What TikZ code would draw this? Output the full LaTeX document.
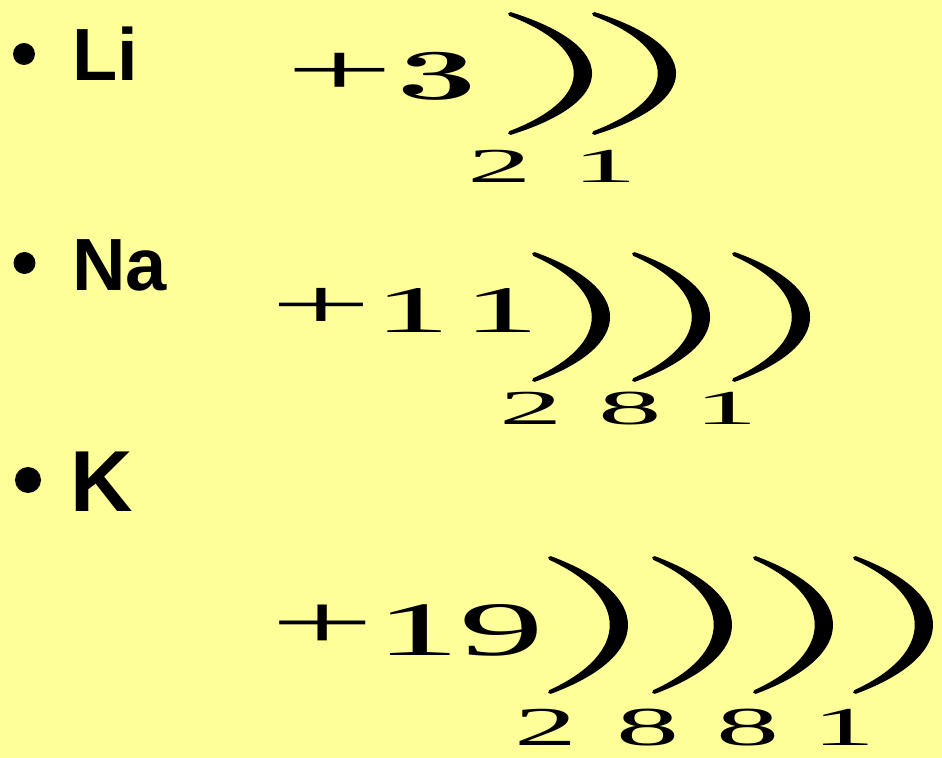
\documentclass[tikz,border=0pt]{standalone}
\usepackage{fontspec}
\setsansfont{Liberation Sans}
\newfontfamily\numfont{Liberation Serif}
\usepackage{graphicx}
\usepackage{tikz}
\definecolor{slideyellow}{RGB}{255,255,153}

% 横向拉宽的文字
\newcommand{\wide}[2]{\scalebox{#1}[1]{\numfont #2}}
% 拉宽并抬高的加号：字号，拉宽倍数，抬高量
\newcommand{\plussign}[3]{\raisebox{#3}{\scalebox{#2}[1]{\numfont\fontsize{#1}{#1}\selectfont +}}}
% 电子层弧线：起点 x，上端 y，下端 y，控制点水平偏移
\newcommand{\shellarc}[4]{%
  \fill[shell] (#1,#2)
    .. controls ({#1+#4},{#2+0.28*(#3-#2)}) and ({#1+#4},{#3-0.28*(#3-#2)}) .. (#1,#3)
    .. controls ({#1+#4-19},{#3-0.28*(#3-#2)}) and ({#1+#4-19},{#2+0.28*(#3-#2)}) .. cycle;}

\tikzset{
  elem label/.style={
    font=\sffamily\bfseries\fontsize{37}{40}\selectfont,
    anchor=base west,
    inner sep=0pt
  },
  bullet dot/.style={
    circle,
    fill=black,
    inner sep=0pt,
    minimum size=11pt
  },
  nucleus/.style={
    anchor=base west,
    inner sep=0pt
  },
  shell num/.style={
    anchor=base,
    inner sep=0pt
  },
  shell/.style={
    fill=black,
    draw=black,
    line width=2pt,
    line join=round
  }
}

\begin{document}
\begin{tikzpicture}[x=0.5pt, y=-0.5pt]
    % 0. 背景
    \fill[slideyellow] (0,0) rectangle (942,758);
    \useasboundingbox (0,0) rectangle (942,758);

    % 1. 元素符号与项目圆点
    \node[bullet dot] (dotLi) at (24,54) {};
    \node[elem label] (Li) at (72,81) {Li};
    \node[bullet dot] (dotNa) at (24.5,263) {};
    \node[elem label] (Na) at (72,291) {Na};
    \node[bullet dot, minimum size=13pt] (dotK) at (28,480) {};
    \node[elem label, font=\sffamily\bfseries\fontsize{43.3}{46}\selectfont] (K) at (70.5,512) {K};

    % 2. 原子核电荷数
    \node[nucleus] (nucLi) at (285,100)
      {\plussign{36.5}{2.64}{2.5pt}\kern1pt\scalebox{2.0}[1]{\rmfamily\bfseries\fontsize{36}{38}\selectfont 3}};
    \node[nucleus, font=\fontsize{33.3}{36}\selectfont] (nucNa) at (269.6,333)
      {\plussign{35.5}{2.54}{2pt}\wide{2.28}{\kern0.65pt 1\kern2.85pt 1}};
    \node[nucleus, font=\fontsize{38.5}{41}\selectfont] (nucK) at (270.5,655)
      {\plussign{38.5}{2.4}{3.5pt}\wide{2.2}{19}};

    % 3. 电子层弧线
    \foreach \sx in {510,594} {\shellarc{\sx}{14}{133}{106.7}}
    \foreach \sx in {534,634,734} {\shellarc{\sx}{254}{380}{98.7}}
    \foreach \sx in {550,654,755,855} {\shellarc{\sx}{558}{692}{101.3}}

    % 4. 各层电子数
    \foreach \n/\sx [count=\i] in {2/500,1/605}
      \node[shell num, font=\fontsize{24.4}{26}\selectfont] (eLi\i) at (\sx,183) {\wide{2.65}{\n}};
    \foreach \n/\sx [count=\i] in {2/531,8/630,1/726}
      \node[shell num, font=\fontsize{24.4}{26}\selectfont] (eNa\i) at (\sx,425) {\wide{2.6}{\n}};
    \foreach \n/\sx [count=\i] in {2/546,8/648,8/748,1/844}
      \node[shell num, font=\fontsize{27.4}{30}\selectfont] (eK\i) at (\sx,745) {\wide{2.3}{\n}};

\end{tikzpicture}
\end{document}
